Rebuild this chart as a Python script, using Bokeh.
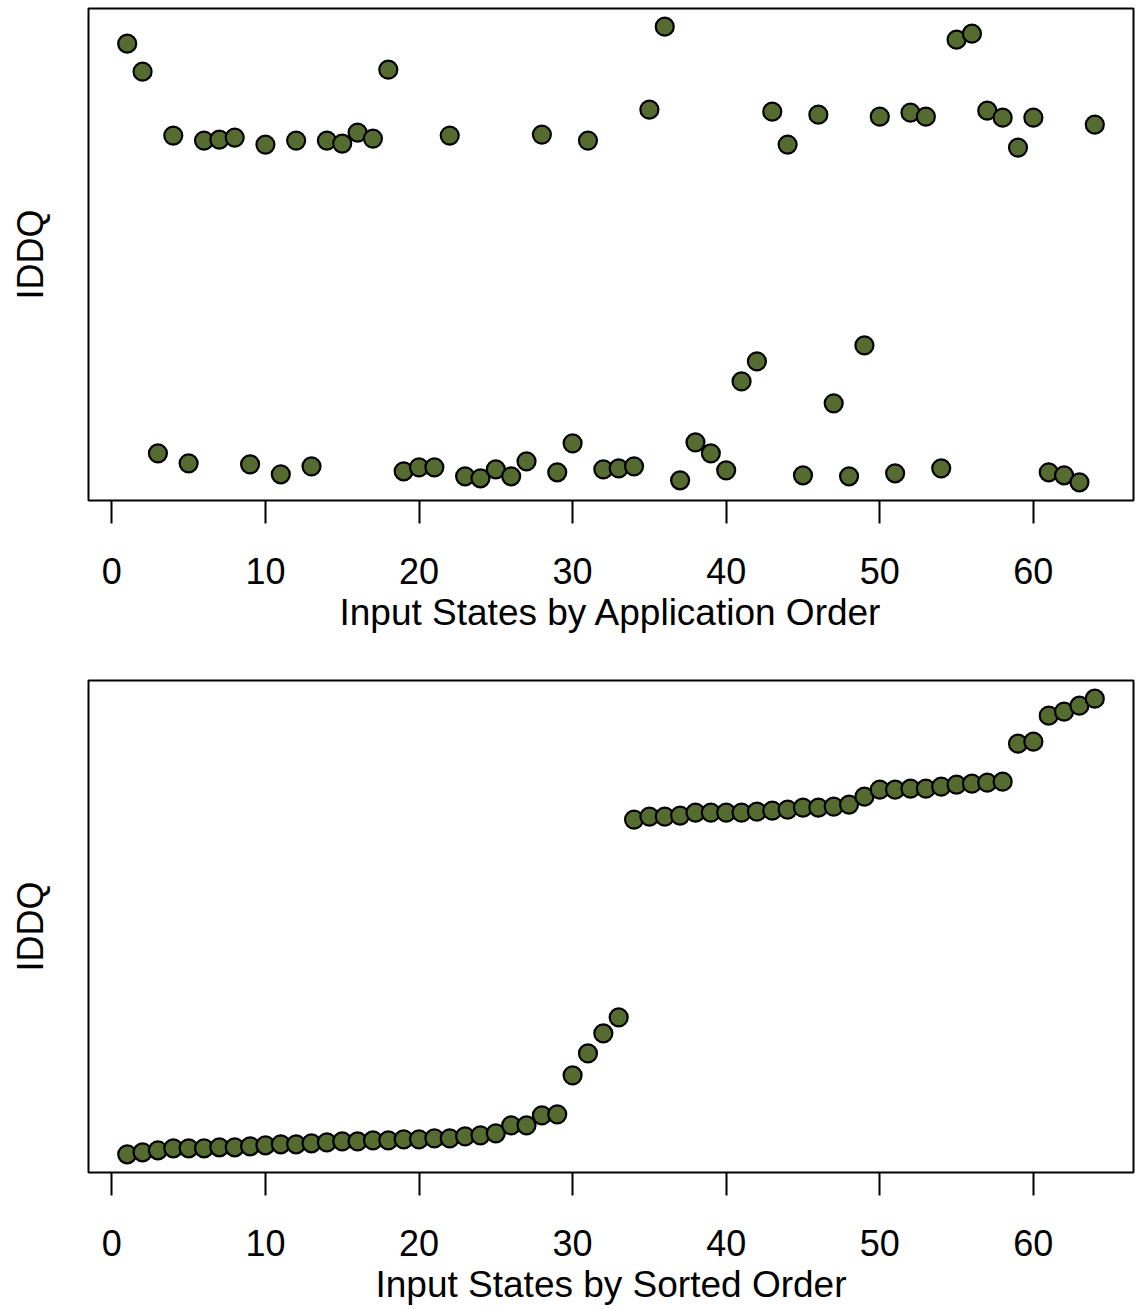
from bokeh.plotting import figure
from bokeh.layouts import column
from bokeh.models import Range1d, FixedTicker, ColumnDataSource
from bokeh.embed import file_html
from bokeh.resources import INLINE

# IDDQ readings in application order (arbitrary units)
iddq = [45.6, 42.8, 4.6, 36.4, 3.6, 35.9, 36.0, 36.2, 3.5, 35.5,
        2.5, 35.9, 3.3, 35.9, 35.6, 36.7, 36.1, 43.0, 2.8, 3.2,
        3.2, 36.4, 2.3, 2.1, 3.0, 2.3, 3.8, 36.5, 2.7, 5.6,
        35.9, 3.0, 3.1, 3.3, 39.0, 47.3, 1.9, 5.7, 4.6, 2.9,
        11.8, 13.8, 38.8, 35.5, 2.4, 38.5, 9.6, 2.3, 15.4, 38.3,
        2.6, 38.7, 38.3, 3.1, 46.0, 46.6, 38.9, 38.2, 35.2, 38.2,
        2.7, 2.4, 1.7, 37.5]
order = list(range(1, len(iddq) + 1))
iddq_sorted = sorted(iddq)
x_ticks = [0, 10, 20, 30, 40, 50, 60]

FONT = "Liberation Sans"
FILL = "#556B2F"


def make_fig(xs, ys, xlabel, height):
    xmin, xmax = min(xs), max(xs)
    ymin, ymax = min(ys), max(ys)
    px = 0.04 * (xmax - xmin)
    py = 0.04 * (ymax - ymin)
    p = figure(width=1137, height=height, output_backend="svg", toolbar_location=None,
               x_range=Range1d(xmin - px, xmax + px),
               y_range=Range1d(ymin - py, ymax + py),
               min_border_left=88, min_border_right=4, min_border_top=8,
               min_border_bottom=height - 500)
    p.grid.visible = False
    p.outline_line_color = "black"
    p.outline_line_width = 2
    p.background_fill_color = "white"
    p.border_fill_color = "white"
    src = ColumnDataSource(dict(x=xs, y=ys))
    p.scatter("x", "y", source=src, size=18, fill_color=FILL,
              line_color="black", line_width=2.2)

    xa = p.xaxis[0]
    xa.ticker = FixedTicker(ticks=x_ticks)
    xa.axis_line_color = None
    xa.major_tick_in = 0
    xa.major_tick_out = 23
    xa.major_tick_line_width = 2
    xa.major_tick_line_color = "black"
    xa.minor_tick_line_color = None
    xa.major_label_text_font = FONT
    xa.major_label_text_font_size = "36px"
    xa.major_label_text_color = "black"
    xa.major_label_standoff = 34
    xa.axis_label = xlabel
    xa.axis_label_text_font = FONT
    xa.axis_label_text_font_size = "37px"
    xa.axis_label_text_font_style = "normal"
    xa.axis_label_text_color = "black"
    xa.axis_label_standoff = 5

    ya = p.yaxis[0]
    ya.ticker = FixedTicker(ticks=[])
    ya.axis_line_color = None
    ya.major_tick_line_color = None
    ya.minor_tick_line_color = None
    ya.major_tick_out = 0
    ya.major_label_text_font_size = "0px"
    ya.axis_label = "IDDQ"
    ya.axis_label_text_font = FONT
    ya.axis_label_text_font_size = "36px"
    ya.axis_label_text_font_style = "normal"
    ya.axis_label_text_color = "black"
    ya.axis_label_standoff = 38
    return p


p1 = make_fig(order, iddq, "Input States by Application Order", 672)
p2 = make_fig(order, iddq_sorted, "Input States by Sorted Order", 637)
p = column(p1, p2)

open("out.html", "w").write(file_html(p, INLINE))
